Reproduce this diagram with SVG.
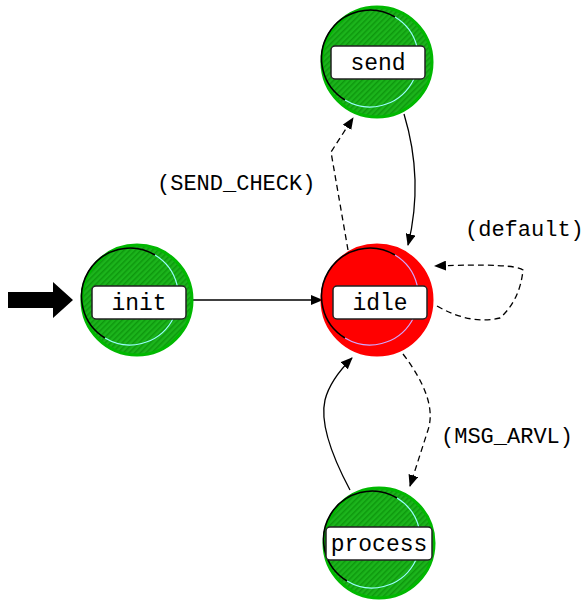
<svg xmlns="http://www.w3.org/2000/svg" width="587" height="600" viewBox="0 0 587 600">
  <style>
    .lbl { font-family: "Liberation Mono", "DejaVu Sans Mono", monospace; font-size: 23px; fill: #000; }
    .elbl { font-family: "Liberation Mono", "DejaVu Sans Mono", monospace; font-size: 22px; fill: #000; }
    .box { fill: #fff; stroke: #222; stroke-width: 1.5; }
    .edge { fill: none; stroke: #000; stroke-width: 1.3; }
    .dash { stroke-dasharray: 6 4; }
    .hi { fill: none; stroke: #000; stroke-width: 1.6; }
    .ring { stroke: #00b800; stroke-width: 3; }
  </style>
  <defs>
    <pattern id="hatchG" width="4" height="4" patternUnits="userSpaceOnUse" patternTransform="rotate(45)">
      <rect width="4" height="4" fill="#1cb41c"/>
      <rect width="1.5" height="4" fill="#0e980e"/>
    </pattern>
    <marker id="ah" viewBox="0 0 12 10" refX="11" refY="5" markerWidth="12" markerHeight="10" markerUnits="userSpaceOnUse" orient="auto">
      <path d="M0,0 L12,5 L0,10 Z" fill="#000"/>
    </marker>
  </defs>

  <!-- start arrow -->
  <path d="M8,292 L53,292 L53,282 L73,300 L53,318 L53,308 L8,308 Z" fill="#000"/>

  <g id="connectors">
    <path class="edge" d="M190,300 L322,300" marker-end="url(#ah)"/>
    <path class="edge dash" d="M348,250 L331,152 L353,118" marker-end="url(#ah)"/>
    <path class="edge" d="M404,114 Q424,180 408,245" marker-end="url(#ah)"/>
    <path class="edge dash" d="M437,306 Q470,325 500,318 Q520,300 523,270 Q515,263 435,266" marker-end="url(#ah)"/>
    <path class="edge dash" d="M403,354 Q438,400 428,430 L410,486" marker-end="url(#ah)"/>
    <path class="edge" d="M350,490 Q318,430 325,400 Q330,380 352,358" marker-end="url(#ah)"/>
    <text class="elbl" x="157" y="190">(SEND_CHECK)</text>
    <text class="elbl" x="465" y="236">(default)</text>
    <text class="elbl" x="441" y="443">(MSG_ARVL)</text>
  </g>

  <g id="send">
    <circle cx="377" cy="62" r="55" fill="url(#hatchG)" class="ring"/>
    <path class="hi" d="M345,100 A48,48 0 0 1 395,17"/>
    <path d="M395,17 A48,48 0 0 1 345,100" fill="none" stroke="#9ff" stroke-width="1.2"/>
    <rect class="box" x="331" y="46" width="94" height="33" rx="4"/>
    <text class="lbl" x="378" y="70" text-anchor="middle">send</text>
  </g>

  <g id="init">
    <circle cx="137" cy="300" r="55" fill="url(#hatchG)" class="ring"/>
    <path class="hi" d="M105,338 A48,48 0 0 1 155,255"/>
    <path d="M155,255 A48,48 0 0 1 105,338" fill="none" stroke="#9ff" stroke-width="1.2"/>
    <rect class="box" x="92" y="286" width="94" height="33" rx="4"/>
    <text class="lbl" x="139" y="310" text-anchor="middle">init</text>
  </g>

  <g id="idle">
    <circle cx="377" cy="300" r="55" fill="#f00" stroke="#f00" stroke-width="3"/>
    <path class="hi" d="M345,338 A48,48 0 0 1 395,255"/>
    <path d="M395,255 A48,48 0 0 1 345,338" fill="none" stroke="#d0a8ff" stroke-width="1.2"/>
    <rect class="box" x="333" y="286" width="94" height="33" rx="4"/>
    <text class="lbl" x="380" y="310" text-anchor="middle">idle</text>
  </g>

  <g id="process">
    <circle cx="379" cy="543" r="55" fill="url(#hatchG)" class="ring"/>
    <path class="hi" d="M347,581 A48,48 0 0 1 397,498"/>
    <path d="M397,498 A48,48 0 0 1 347,581" fill="none" stroke="#9ff" stroke-width="1.2"/>
    <rect class="box" x="326" y="527" width="106" height="33" rx="4"/>
    <text class="lbl" x="379" y="551" text-anchor="middle">process</text>
  </g>
</svg>
